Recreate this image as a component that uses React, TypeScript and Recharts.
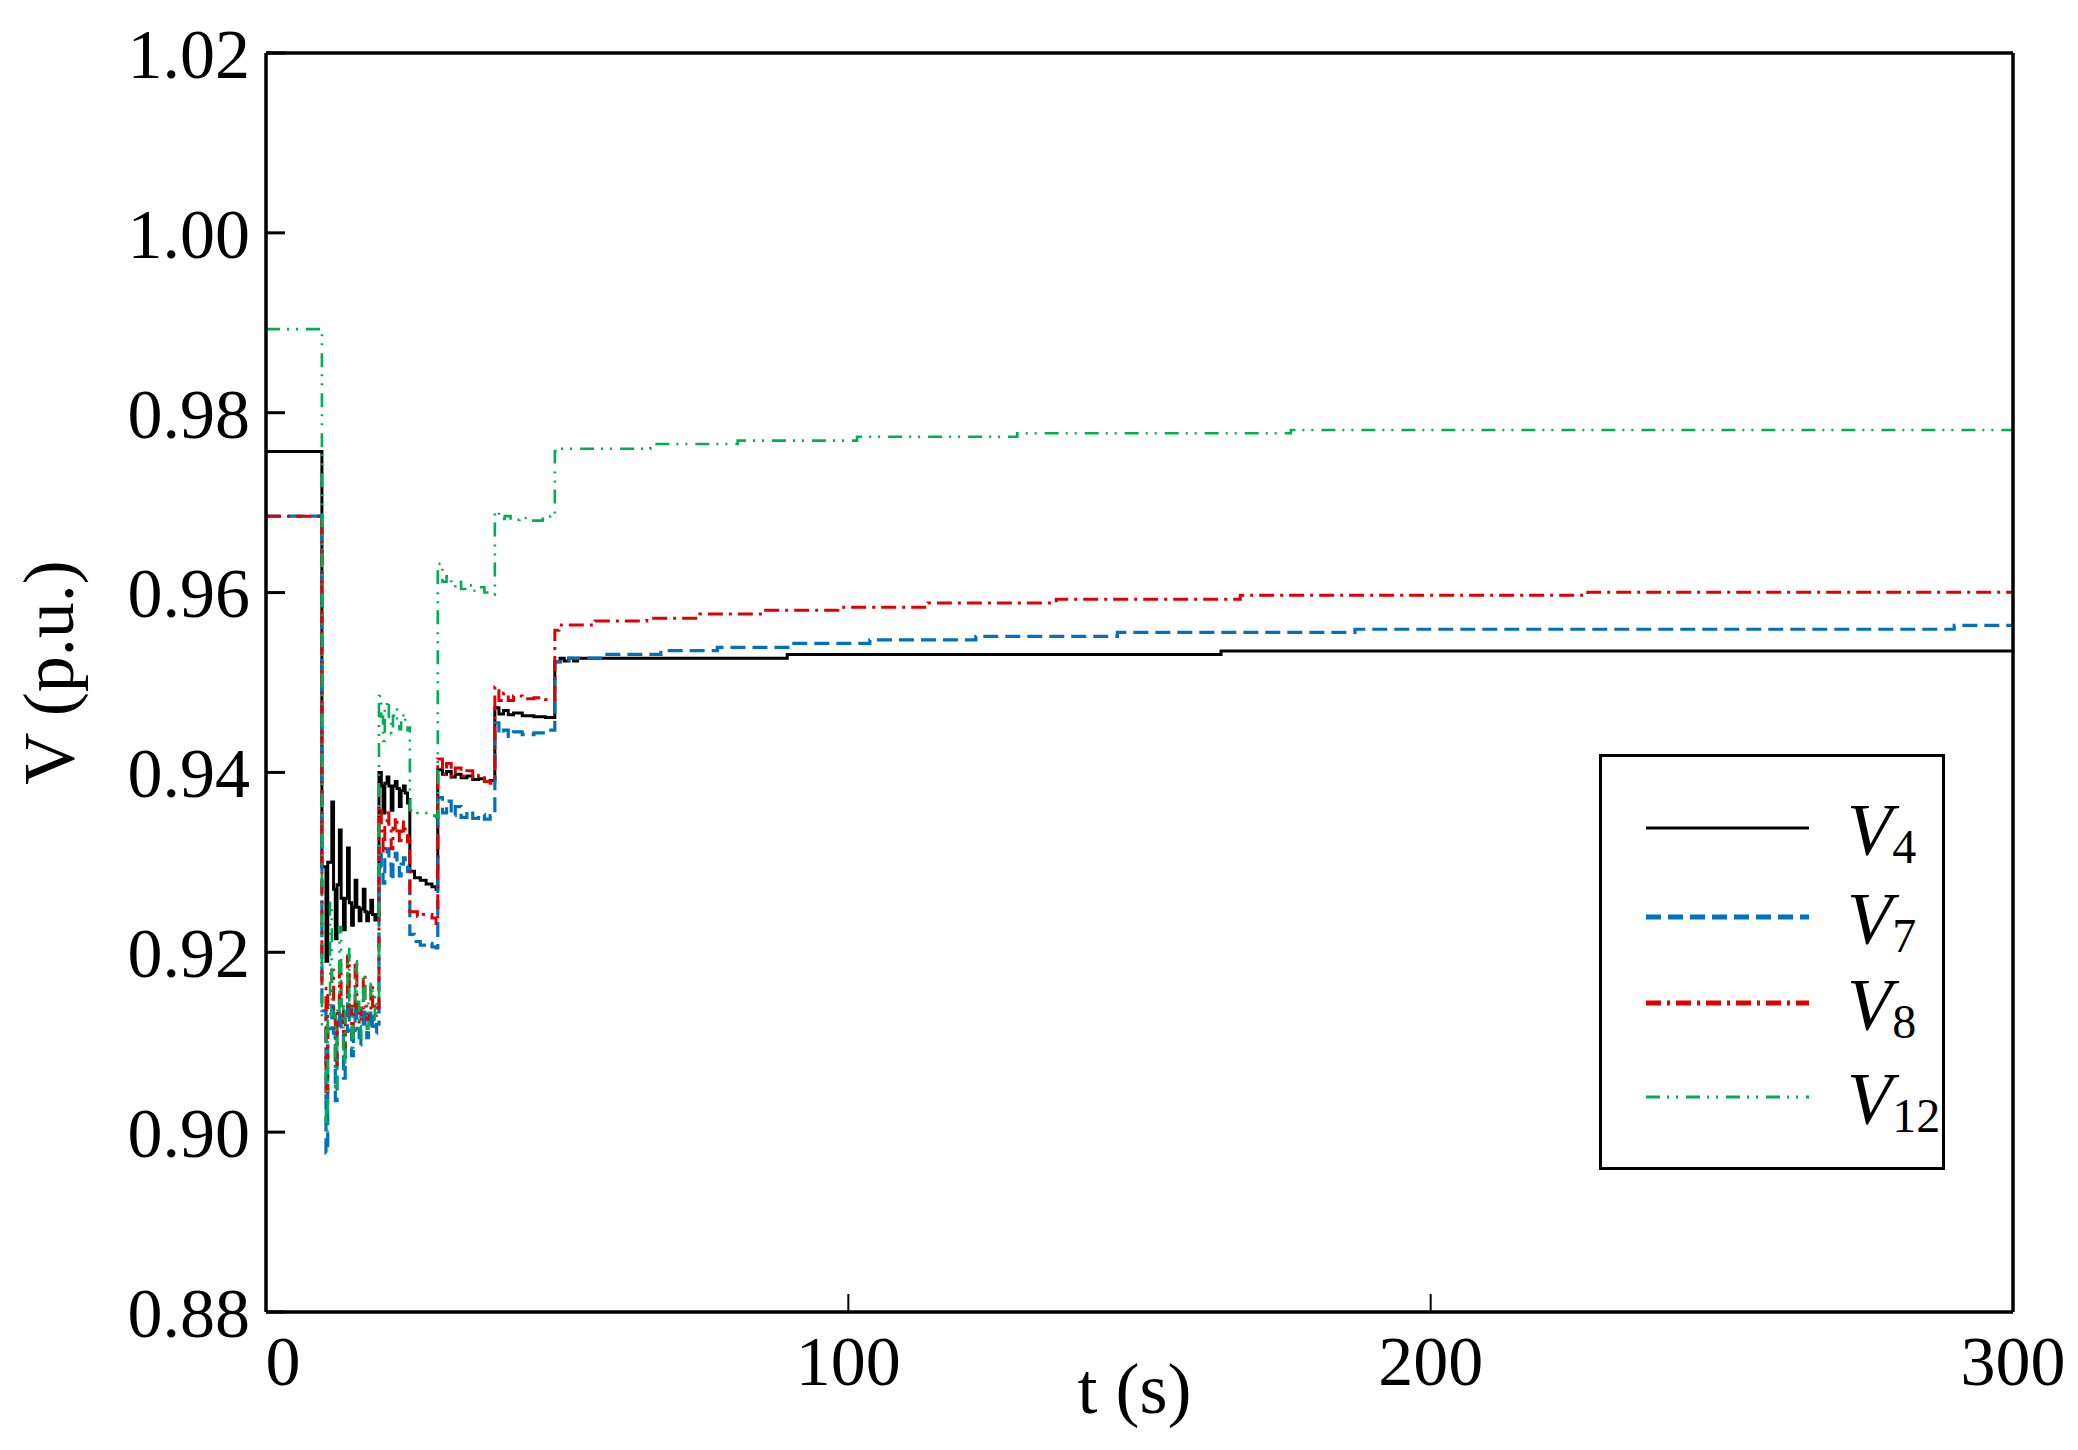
import React from "react";
import {
  LineChart,
  Line,
  XAxis,
  YAxis,
  Legend,
} from "recharts";

const FONT = '"Liberation Serif", "Times New Roman", serif';

// x-axis / y-axis ticks
const T_TICKS = [0, 100, 200, 300];
const V_TICKS = [0.88, 0.9, 0.92, 0.94, 0.96, 0.98, 1.0, 1.02];

// V4 (black, solid)
const V4_T = [
  0, 9.6, 10.3, 10.6, 11.3, 11.6, 11.9, 12.2, 12.6, 12.9, 13.3, 13.6, 14.0, 14.3, 14.7, 15.0, 15.3, 15.6,
  16.0, 16.3, 16.7, 17.0, 17.3, 17.6, 18.0, 18.3, 18.7, 19.0,
  19.4, 19.8, 20.1, 20.4, 20.8, 21.1, 21.5, 21.8, 22.2, 22.5, 22.9, 23.2, 23.6, 23.9, 24.3, 24.5,
  24.7, 25.5, 26.5, 27.5, 28.5, 29.2,
  29.5, 30.3, 31, 31.8, 32.5, 33.5, 34.5, 35.5, 36.5, 37.5, 38.5,
  39.3, 40, 40.8, 41.6, 42.5, 44, 46, 48,
  49.6, 50.5, 51.2, 52, 52.8, 53.5, 89.5, 164, 300,
];
const V4 = [
  0.9757, 0.9295, 0.919, 0.93, 0.9367, 0.927, 0.9215, 0.9275, 0.9336, 0.926, 0.9225, 0.926, 0.9316, 0.9255, 0.923, 0.925, 0.928, 0.925,
  0.9235, 0.9248, 0.927, 0.9245, 0.9235, 0.9244, 0.9258, 0.9242, 0.9236, 0.9242,
  0.94, 0.9385, 0.9355, 0.9388, 0.9395, 0.9385, 0.9358, 0.9385, 0.939, 0.9382, 0.9362, 0.938, 0.9385, 0.9377, 0.9366, 0.937,
  0.929, 0.9283, 0.928, 0.9276, 0.9273, 0.927,
  0.9403, 0.9398, 0.9401, 0.9395, 0.9398, 0.9394, 0.9396, 0.9392, 0.9393, 0.939, 0.9391,
  0.9472, 0.9465, 0.9469, 0.9464, 0.9466, 0.9463, 0.9462, 0.9461,
  0.9523, 0.9527, 0.9524, 0.9527, 0.9524, 0.9527, 0.9531, 0.9535, 0.9535,
];

// V7 (blue, dashed)
const V7_T = [
  0, 9.6, 10.3, 10.6, 11.3, 11.6, 11.9, 12.2, 12.6, 12.9, 13.3, 13.6, 14.0, 14.3, 14.7, 15.0, 15.3, 15.6,
  16.0, 16.3, 16.7, 17.0, 17.3, 17.6, 18.0, 18.3, 18.7, 19.0,
  19.4, 19.8, 20.1, 20.4, 20.8, 21.1, 21.5, 21.8, 22.2, 22.5, 22.9, 23.2, 23.6, 23.9, 24.3, 24.5,
  24.7, 25.5, 26.5, 27.5, 28.5, 29.2,
  29.5, 30.3, 31, 31.8, 32.5, 33.5, 34.5, 35.5, 36.5, 37.5, 38.5,
  39.3, 40, 40.8, 41.6, 42.5, 44, 46, 48,
  49.6, 52, 58.2, 67.8, 77.5, 89.9, 103.7, 121.9, 146.2, 187, 289.9, 300,
];
const V7 = [
  0.9685, 0.9135, 0.8977, 0.9115, 0.9145, 0.911, 0.9035, 0.911, 0.9148, 0.9112, 0.906, 0.9112, 0.9145, 0.9113, 0.9085, 0.9113, 0.9143, 0.9115,
  0.9097, 0.9115, 0.9138, 0.9117, 0.9105, 0.9118, 0.9135, 0.9118, 0.911, 0.912,
  0.9318, 0.9295, 0.9277, 0.9305, 0.9315, 0.9298, 0.928, 0.93, 0.931, 0.9298, 0.9285, 0.9298, 0.9305, 0.9296, 0.929, 0.9293,
  0.922, 0.9212, 0.9208, 0.921, 0.9206, 0.9205,
  0.9372, 0.9355, 0.9368, 0.9352, 0.9362, 0.935, 0.9357, 0.9349, 0.9353, 0.9348, 0.9352,
  0.9455, 0.9443, 0.9447, 0.944, 0.9445, 0.9442, 0.9444, 0.9447,
  0.9523, 0.9527, 0.95313, 0.95354, 0.9539, 0.95436, 0.95473, 0.95514, 0.95558, 0.95592, 0.95636, 0.95636,
];

// V8 (red, dash-dot)
const V8_T = [
  0, 9.6, 10.3, 10.6, 11.3, 11.6, 11.9, 12.2, 12.6, 12.9, 13.3, 13.6, 14.0, 14.3, 14.7, 15.0, 15.3, 15.6,
  16.0, 16.3, 16.7, 17.0, 17.3, 17.6, 18.0, 18.3, 18.7, 19.0,
  19.4, 19.8, 20.1, 20.4, 20.8, 21.1, 21.5, 21.8, 22.2, 22.5, 22.9, 23.2, 23.6, 23.9, 24.3, 24.5,
  24.7, 26, 27, 28.5, 29.2,
  29.5, 30.3, 31, 31.8, 32.5, 33.5, 34.5, 35.5, 36.5, 37.5, 38.5,
  39.3, 40, 40.8, 41.6, 42.5, 44, 46, 48,
  49.6, 50.3, 56.5, 65.4, 74.5, 85.4, 98.2, 113.7, 135.7, 167.3, 227, 300,
];
const V8 = [
  0.9685, 0.916, 0.9045, 0.9155, 0.918, 0.9135, 0.907, 0.9135, 0.9185, 0.9135, 0.9095, 0.914, 0.9195, 0.914, 0.911, 0.914, 0.919, 0.9138,
  0.912, 0.9138, 0.9175, 0.914, 0.9125, 0.9138, 0.9165, 0.914, 0.913, 0.9138,
  0.9362, 0.9335, 0.931, 0.9345, 0.9355, 0.9335, 0.9315, 0.9338, 0.935, 0.9335, 0.932, 0.9335, 0.9345, 0.9333, 0.9323, 0.933,
  0.9245, 0.924, 0.9242, 0.9238, 0.9232,
  0.9415, 0.9398, 0.941, 0.9395, 0.9405, 0.9396, 0.9402, 0.9394, 0.9397, 0.939, 0.9388,
  0.9495, 0.948, 0.9488, 0.948, 0.9485, 0.9482, 0.9483, 0.9481,
  0.9558, 0.9564, 0.95684, 0.95714, 0.95762, 0.95803, 0.95836, 0.95884, 0.95925, 0.9597, 0.96003, 0.96003,
];

// V12 (green, dash-dot-dot)
const V12_T = [
  0, 9.6, 10.3, 10.6, 11.0, 11.3, 11.9, 12.2, 12.6, 12.9, 13.3, 13.6, 14.0, 14.3, 14.7, 15.0, 15.3, 15.6,
  16.0, 16.3, 16.7, 17.0, 17.3, 17.6, 18.0, 18.3, 18.7, 19.0,
  19.4, 19.8, 20.1, 20.4, 20.8, 21.1, 21.5, 21.8, 22.2, 22.5, 22.9, 23.2, 23.6, 23.9, 24.3, 24.5,
  24.7, 26, 27.5, 29.2,
  29.5, 30.3, 31, 31.8, 32.5, 33.5, 34.5, 35.5, 36.5, 37.5, 38.5,
  39.3, 40, 41, 42, 43.5, 45.5, 47.5, 48.8,
  49.6, 50.5, 66, 81, 101.5, 129, 176, 300,
];
const V12 = [
  0.9893, 0.912, 0.9002, 0.913, 0.9255, 0.913, 0.905, 0.9135, 0.9228, 0.914, 0.907, 0.914, 0.9205, 0.9142, 0.909, 0.9145, 0.919, 0.9145,
  0.9105, 0.9147, 0.9175, 0.9148, 0.9115, 0.9148, 0.9165, 0.915, 0.9125, 0.9145,
  0.9485, 0.9462, 0.9435, 0.947, 0.948, 0.946, 0.9443, 0.9463, 0.947, 0.9455, 0.9448, 0.946, 0.9465, 0.9453, 0.9447, 0.945,
  0.9358, 0.9355, 0.9352, 0.935,
  0.9632, 0.9612, 0.9618, 0.9607, 0.9612, 0.9604, 0.9608, 0.9602, 0.9606, 0.96, 0.9598,
  0.969, 0.9682, 0.9685, 0.9681, 0.9683, 0.968, 0.9682, 0.9685,
  0.9757, 0.976, 0.97652, 0.9769, 0.97733, 0.97771, 0.97808, 0.97808,
];

const zip = (ts: number[], vs: number[]) => ts.map((t, i) => ({ t, v: vs[i] }));

const SERIES = [
  { key: "V4", sub: "4", data: zip(V4_T, V4), color: "#000000", width: 3, dash: undefined },
  { key: "V7", sub: "7", data: zip(V7_T, V7), color: "#0070C0", width: 3.2, dash: "15 7" },
  { key: "V8", sub: "8", data: zip(V8_T, V8), color: "#E00000", width: 3, dash: "15 6 3 6" },
  { key: "V12", sub: "12", data: zip(V12_T, V12), color: "#00B050", width: 2.6, dash: "14 7 2 7 2 8" },
];

const LegendBox = () => {
  const rows = [74, 163, 249, 343];
  return (
    <svg width={346} height={416} style={{ display: "block" }}>
      <rect x={1.5} y={1.5} width={343} height={413} fill="#fff" stroke="#000" strokeWidth={3} />
      {SERIES.map((s, i) => (
        <g key={s.key}>
          <line
            x1={47}
            x2={210}
            y1={rows[i]}
            y2={rows[i]}
            stroke={s.color}
            strokeWidth={s.key === "V12" ? 3 : s.key === "V4" ? 3 : 5}
            strokeDasharray={s.dash}
          />
          <text x={248} y={rows[i] + 27} fontFamily={FONT} fontSize={74} fontStyle="italic" fill="#000">
            V
            <tspan fontStyle="normal" fontSize={48} dy={8}>
              {s.sub}
            </tspan>
          </text>
        </g>
      ))}
    </svg>
  );
};

const XTick = (props: any) => {
  const { x, y, payload } = props;
  return (
    <text
      x={payload.value === 0 ? x + 17 : x}
      y={y}
      dy={73}
      textAnchor="middle"
      fontFamily={FONT}
      fontSize={70}
      fill="#000"
    >
      {payload.value}
    </text>
  );
};

const YTitle = (props: any) => {
  const { viewBox } = props;
  const cy = viewBox.y + viewBox.height / 2 - 10;
  return (
    <text x={73} y={cy} transform={`rotate(-90 73 ${cy})`} textAnchor="middle" fontFamily={FONT} fontSize={72} fill="#000">
      V (p.u.)
    </text>
  );
};

const XTitle = (props: any) => {
  const { viewBox } = props;
  const cx = viewBox.x + viewBox.width / 2 - 5;
  return (
    <text x={cx} y={1413} textAnchor="middle" fontFamily={FONT} fontSize={72} fill="#000">
      t (s)
    </text>
  );
};

export default function App() {
  return (
    <div style={{ width: 2078, height: 1450, background: "#fff" }}>
      <style>{"body{margin:0;background:#fff}"}</style>
      <LineChart width={2078} height={1450} margin={{ top: 52, right: 64, bottom: 0, left: 0 }}>
        <XAxis
          dataKey="t"
          type="number"
          domain={[0, 300]}
          ticks={T_TICKS}
          interval={0}
          height={138}
          tickSize={-18}
          tickMargin={18}
          tick={<XTick />}
          axisLine={{ stroke: "#000", strokeWidth: 3.5 }}
          tickLine={{ stroke: "#000", strokeWidth: 2 }}
          label={{ content: XTitle }}
        />
        <XAxis
          xAxisId="top"
          orientation="top"
          dataKey="t"
          type="number"
          domain={[0, 300]}
          ticks={T_TICKS}
          interval={0}
          height={1}
          tickSize={-17}
          tick={false}
          axisLine={{ stroke: "#000", strokeWidth: 3.5 }}
          tickLine={{ stroke: "#000", strokeWidth: 2 }}
        />
        <YAxis
          type="number"
          domain={[0.88, 1.02]}
          ticks={V_TICKS}
          interval={0}
          width={266}
          tickSize={-19}
          tickMargin={35}
          tickFormatter={(v: number) => v.toFixed(2)}
          tick={{ fontSize: 70, fontFamily: FONT, fill: "#000" }}
          axisLine={{ stroke: "#000", strokeWidth: 3.5 }}
          tickLine={{ stroke: "#000", strokeWidth: 3 }}
          label={{ content: YTitle }}
        />
        <YAxis
          yAxisId="right"
          orientation="right"
          type="number"
          domain={[0.88, 1.02]}
          ticks={V_TICKS}
          interval={0}
          width={1}
          tickSize={-19}
          tick={false}
          axisLine={{ stroke: "#000", strokeWidth: 3.5 }}
          tickLine={{ stroke: "#000", strokeWidth: 3 }}
        />
        {SERIES.map((s) => (
          <Line
            key={s.key}
            data={s.data}
            dataKey="v"
            name={s.key}
            type="stepAfter"
            stroke={s.color}
            strokeWidth={s.width}
            strokeDasharray={s.dash}
            dot={false}
            activeDot={false}
            isAnimationActive={false}
          />
        ))}
        <Legend
          layout="vertical"
          align="center"
          verticalAlign="middle"
          wrapperStyle={{ left: 1599, top: 754, width: 346, height: 416 }}
          content={<LegendBox />}
        />
      </LineChart>
    </div>
  );
}
